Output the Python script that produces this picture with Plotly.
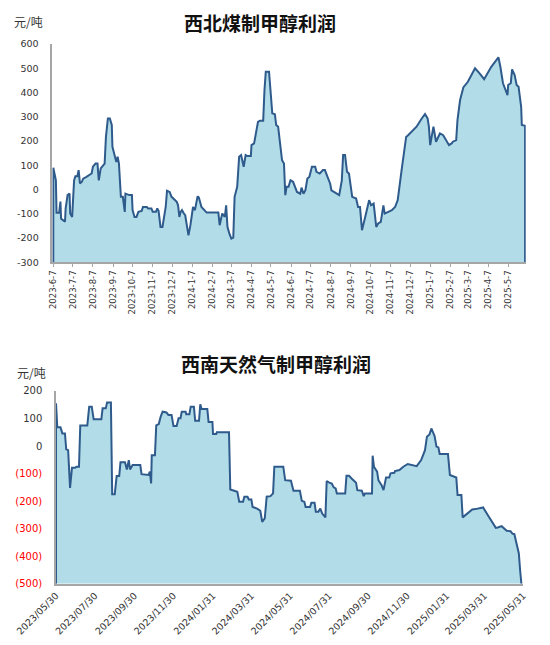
import pandas as pd
import plotly.graph_objects as go

# ---------------- data: 西北煤制甲醇利润 (day offset from 2023-06-07, 元/吨) ----------------
nw_start = "2023-06-07"
nw_days = [0, 4, 5, 9, 11, 12, 16, 18, 19, 22, 25, 26, 29, 32, 34, 37, 39, 41, 44, 46,
           51, 56, 59, 61, 65, 68, 70, 73, 77, 79, 81, 82, 84, 87, 90, 91, 94, 97, 99, 101,
           104, 107, 110, 111, 117, 121, 122, 125, 128, 131, 136, 138, 144, 146, 151, 153, 158, 160, 162, 165,
           168, 170, 173, 175, 179, 182, 185, 190, 192, 194, 196, 198, 201, 203, 208, 211, 215, 218, 222, 224,
           228, 233, 236, 254, 256, 260, 264, 266, 268, 271, 274, 277, 279, 283, 286, 289, 293, 296, 299, 304,
           305, 309, 313, 315, 318, 323, 325, 327, 332, 334, 337, 341, 343, 346, 349, 352, 355, 357, 359, 362,
           365, 369, 372, 375, 380, 382, 385, 388, 391, 394, 398, 403, 405, 410, 415, 418, 422, 426, 428, 436,
           440, 444, 446, 449, 452, 455, 460, 466, 469, 472, 475, 480, 486, 489, 493, 497, 500, 504, 508, 510,
           515, 521, 526, 530, 536, 543, 546, 551, 559, 567, 572, 576, 578, 580, 585, 589, 595, 600, 605, 609,
           613, 615, 620, 622, 626, 631, 638, 644, 649, 656, 663, 674, 685, 688, 692, 699, 700, 704, 706, 710,
           713, 716, 720, 721, 726]
nw_profit = [90, 38, -96, -96, -50, -120, -127, -133, -78, -23, -17, -99, -113, 38, 55, 55, 80, 25, 32, 45,
             52, 59, 66, 94, 107, 107, 38, 87, 100, 107, 217, 245, 293, 293, 266, 176, 149, 114, 135, 107,
             -30, -30, -92, -17, -23, -23, -85, -113, -113, -92, -88, -72, -72, -78, -78, -92, -92, -78, -88, -154,
             -154, -113, -72, -5, -10, -30, -37, -51, -65, -113, -92, -85, -99, -106, -189, -147, -72, -85, -28, -33,
             -72, -85, -95, -95, -147, -99, -113, -65, -154, -182, -202, -198, -30, 11, 135, 142, 94, 142, 138, 138,
             183, 190, 245, 279, 284, 284, 410, 486, 486, 403, 314, 310, 266, 259, 176, 121, 107, -23, 11, 11,
             38, 32, 11, -10, -17, 8, -17, -3, 45, 52, 94, 94, 73, 66, 80, 80, 52, 25, -3, -17,
             -23, 38, 142, 142, 73, 66, -30, -37, -72, -72, -168, -113, -44, -65, -58, -154, -140, -133, -65, -99,
             -92, -85, -72, -44, 80, 217, 224, 238, 259, 293, 311, 293, 259, 183, 259, 197, 231, 224, 204, 183,
             190, 197, 204, 286, 369, 421, 444, 472, 500, 479, 455, 506, 545, 506, 438, 389, 431, 438, 495, 472,
             431, 424, 341, 266, 263]
nw_ticks = ["2023-6-7", "2023-7-7", "2023-8-7", "2023-9-7", "2023-10-7", "2023-11-7", "2023-12-7",
            "2024-1-7", "2024-2-7", "2024-3-7", "2024-4-7", "2024-5-7", "2024-6-7", "2024-7-7",
            "2024-8-7", "2024-9-7", "2024-10-7", "2024-11-7", "2024-12-7", "2025-1-7", "2025-2-7",
            "2025-3-7", "2025-4-7", "2025-5-7"]
nw_yticks = [600, 500, 400, 300, 200, 100, 0, -100, -200, -300]

# ---------------- data: 西南天然气制甲醇利润 (day offset from 2023-05-30, 元/吨) ----------------
sw_start = "2023-05-30"
sw_days = [0, 2, 7, 10, 14, 16, 19, 22, 25, 30, 32, 36, 38, 49, 52, 56, 59, 71, 73, 78,
           80, 86, 88, 92, 95, 99, 101, 108, 111, 114, 116, 120, 132, 134, 145, 147, 149, 150, 155, 157,
           161, 164, 167, 173, 176, 181, 184, 189, 192, 195, 197, 203, 204, 209, 211, 216, 218, 224, 226, 228,
           237, 239, 245, 246, 251, 252, 271, 273, 281, 284, 287, 293, 295, 300, 302, 306, 308, 315, 320, 323,
           327, 330, 336, 340, 342, 356, 359, 368, 372, 382, 385, 389, 391, 398, 400, 405, 407, 411, 414, 417,
           422, 424, 428, 432, 435, 438, 440, 453, 455, 459, 463, 470, 472, 479, 482, 484, 495, 496, 498, 503,
           505, 510, 513, 517, 522, 524, 530, 531, 538, 544, 551, 565, 572, 578, 581, 585, 588, 590, 593, 596,
           599, 601, 614, 617, 622, 627, 629, 635, 637, 652, 657, 669, 678, 689, 692, 698, 706, 712, 715, 718,
           722, 725, 727, 729]
sw_profit = [155, 68, 68, 46, 46, -12, -15, -152, -79, -79, -75, -75, 75, 75, 143, 143, 97, 97, 137, 137,
             158, 158, -175, -175, -109, -109, -59, -59, -85, -51, -85, -69, -69, -102, -105, -93, -136, -33, -33, 75,
             80, 107, 125, 122, 113, 113, 73, 73, 101, 101, 125, 125, 116, 116, 143, 143, 92, 92, 152, 135,
             135, 87, 87, 44, 44, 50, 50, -158, -162, -166, -202, -202, -184, -184, -194, -194, -221, -227, -235, -275,
             -263, -184, -182, -172, -75, -75, -124, -126, -162, -162, -199, -202, -221, -221, -206, -206, -239, -239, -227, -245,
             -259, -127, -133, -136, -150, -154, -172, -172, -108, -108, -118, -133, -160, -162, -182, -172, -172, -35, -75, -93,
             -124, -142, -160, -114, -114, -99, -97, -91, -87, -75, -65, -73, -51, -15, 34, 42, 64, 52, 36, -2,
             -5, -29, -29, -105, -109, -114, -178, -178, -259, -230, -229, -223, -257, -297, -296, -291, -308, -309, -318, -320,
             -360, -390, -451, -490]
sw_ticks = ["2023/05/30", "2023/07/30", "2023/09/30", "2023/11/30", "2024/01/31", "2024/03/31",
            "2024/05/31", "2024/07/31", "2024/09/30", "2024/11/30", "2025/01/31", "2025/03/31",
            "2025/05/31"]
sw_yticks = [200, 100, 0, -100, -200, -300, -400, -500]

# ---------------- styles ----------------
FILL = "#B2DDE8"
LINE = "#2E5A8C"
AXIS = "#A6A6A6"
TXT = "#333333"
CJK = "Noto Sans CJK SC"
NUM = "DejaVu Sans"

# figure sized to fit the page inside the default 8px body margin
W, H = 534, 629

nw_x = pd.Timestamp(nw_start) + pd.to_timedelta(nw_days, unit="D")
sw_x = pd.Timestamp(sw_start) + pd.to_timedelta(sw_days, unit="D")
nw_min, nw_max = min(nw_yticks), max(nw_yticks)
sw_min, sw_max = min(sw_yticks), max(sw_yticks)


def closed(xs, ys, base):
    xs = list(xs)
    return [xs[0]] + xs + [xs[-1]], [base] + list(ys) + [base]


fig = go.Figure()
x1, y1 = closed(nw_x, nw_profit, nw_min)
fig.add_trace(go.Scatter(x=x1, y=y1, mode="lines", fill="toself", fillcolor=FILL,
                         line=dict(color=LINE, width=2), xaxis="x", yaxis="y",
                         showlegend=False, hoverinfo="skip"))
x2, y2 = closed(sw_x, sw_profit, sw_min)
fig.add_trace(go.Scatter(x=x2, y=y2, mode="lines", fill="toself", fillcolor=FILL,
                         line=dict(color=LINE, width=2), xaxis="x2", yaxis="y2",
                         showlegend=False, hoverinfo="skip"))


def neg_fmt(v):
    if v < 0:
        return '<span style="color:#FF0000">(%d)</span>' % abs(v)
    return str(v)


fig.update_layout(
    width=W, height=H,
    margin=dict(l=0, r=0, t=0, b=0),
    paper_bgcolor="white", plot_bgcolor="white",
    template="none",
    showlegend=False,
    xaxis=dict(
        domain=[0.0830, 0.9695], anchor="y", type="date",
        range=["2023-06-05 12:00", "2025-06-03"],
        tickvals=pd.to_datetime(nw_ticks, format="%Y-%m-%d"), ticktext=nw_ticks,
        tickangle=-90, tickfont=dict(family=NUM, size=8.5, color=TXT),
        showline=True, linecolor=AXIS, linewidth=1.5, showgrid=False, zeroline=False,
        ticks="outside", ticklen=3, tickcolor=AXIS,
    ),
    yaxis=dict(
        domain=[0.5957, 0.9428], anchor="x",
        range=[nw_min, nw_max], tickvals=nw_yticks, ticktext=[str(v) for v in nw_yticks],
        tickfont=dict(family=NUM, size=9.5, color=TXT),
        showline=True, linecolor=AXIS, linewidth=1.5, showgrid=False, zeroline=False,
        ticks="", ticklabelstandoff=10,
    ),
    xaxis2=dict(
        domain=[0.0899, 0.9650], anchor="y2", type="date",
        range=["2023-05-30", "2025-05-31"],
        tickvals=pd.to_datetime(sw_ticks, format="%Y/%m/%d"), ticktext=sw_ticks,
        tickangle=-45, tickfont=dict(family=NUM, size=9.5, color=TXT),
        showline=True, linecolor=AXIS, linewidth=1.5, showgrid=False, zeroline=False,
        ticks="", ticklabelstandoff=1,
    ),
    yaxis2=dict(
        domain=[0.0847, 0.3911], anchor="x2",
        range=[sw_min, sw_max], tickvals=sw_yticks, ticktext=[neg_fmt(v) for v in sw_yticks],
        tickfont=dict(family=NUM, size=10, color=TXT),
        showline=True, linecolor=AXIS, linewidth=1.5, showgrid=False, zeroline=False,
        ticks="", ticklabelstandoff=10,
    ),
    annotations=[
        dict(text="<b>西北煤制甲醇利润</b>", x=0.4719, y=1.0, xref="paper", yref="paper",
             xanchor="center", yanchor="top", borderpad=0,
             showarrow=False, font=dict(family=CJK, size=19, color="#111111")),
        dict(text="元/吨", x=0.0384, y=0.9793, xref="paper", yref="paper",
             xanchor="center", yanchor="middle",
             showarrow=False, font=dict(family=CJK, size=12, color=TXT)),
        dict(text="<b>西南天然气制甲醇利润</b>", x=0.5028, y=0.4356, xref="paper", yref="paper",
             xanchor="center", yanchor="middle",
             showarrow=False, font=dict(family=CJK, size=19, color="#111111")),
        dict(text="元/吨", x=0.0431, y=0.4213, xref="paper", yref="paper",
             xanchor="center", yanchor="middle",
             showarrow=False, font=dict(family=CJK, size=12, color=TXT)),
    ],
)

fig.write_html("out.html")
